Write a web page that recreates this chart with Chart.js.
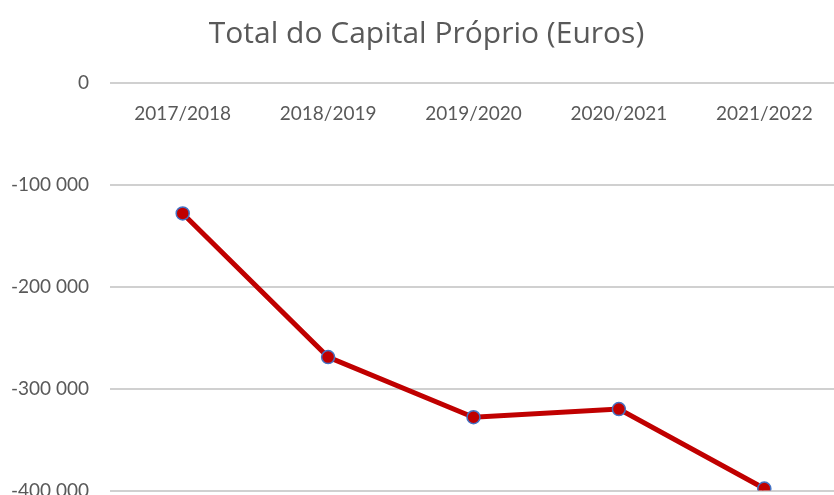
<!DOCTYPE html>
<html>
<head>
<meta charset="utf-8">
<script src="https://cdn.jsdelivr.net/npm/chart.js@4"></script>
<style>
  html, body { margin: 0; padding: 0; background: #fff; overflow: hidden; }
  #frame { width: 834px; height: 495px; overflow: hidden; }
  #wrap { width: 845px; height: 523px; }
</style>
</head>
<body>
<div id="frame"><div id="wrap"><canvas id="myChart"></canvas></div></div>
<script>
var categories = ['2017/2018', '2018/2019', '2019/2020', '2020/2021', '2021/2022'];
var capitalValues = [-128000, -269000, -328000, -320000, -398000];
var yTicks = [0, -100000, -200000, -300000, -400000];

function fmt(v) {
    var s = Math.abs(v).toString().replace(/\B(?=(\d{3})+(?!\d))/g, ' ');
    return (v < 0 ? '-' : '') + s;
}

var ctx = document.getElementById('myChart').getContext('2d');
var chart = new Chart(ctx, {
    type: 'line',
    data: {
        labels: categories,
        datasets: [{
            label: 'Total do Capital Próprio',
            data: capitalValues,
            borderColor: '#C00000',
            borderWidth: 5,
            backgroundColor: '#C00000',
            pointBackgroundColor: '#C00000',
            pointBorderColor: '#4472C4',
            pointBorderWidth: 1.5,
            pointRadius: 6.5,
            tension: 0
        }]
    },
    options: {
        responsive: true,
        maintainAspectRatio: false,
        animation: false,
        layout: { padding: { left: 8, right: 0, top: 0, bottom: 6 } },
        plugins: {
            legend: { display: false },
            tooltip: { enabled: false },
            title: {
                display: true,
                text: 'Total do Capital Próprio (Euros)',
                color: '#595959',
                font: { family: 'Open Sans', size: 30, weight: 'normal' },
                padding: { top: 16, bottom: 31 }
            }
        },
        scales: {
            x: {
                position: { y: 0 },
                offset: true,
                grid: { display: false },
                border: { display: false },
                ticks: {
                    color: '#595959',
                    font: { family: 'Lato', size: 19 },
                    padding: 11,
                    maxRotation: 0
                }
            },
            y: {
                min: -400000,
                max: 0,
                afterBuildTicks: function (axis) {
                    axis.ticks = yTicks.map(function (v) { return { value: v }; });
                },
                afterFit: function (axis) { axis.width = 102; },
                grid: { color: '#d0d0d0', lineWidth: 2, drawTicks: false },
                border: { display: false },
                ticks: {
                    color: '#595959',
                    font: { family: 'Lato', size: 19 },
                    padding: 21,
                    callback: function (v) { return fmt(v); }
                }
            }
        }
    }
});
</script>
</body>
</html>
